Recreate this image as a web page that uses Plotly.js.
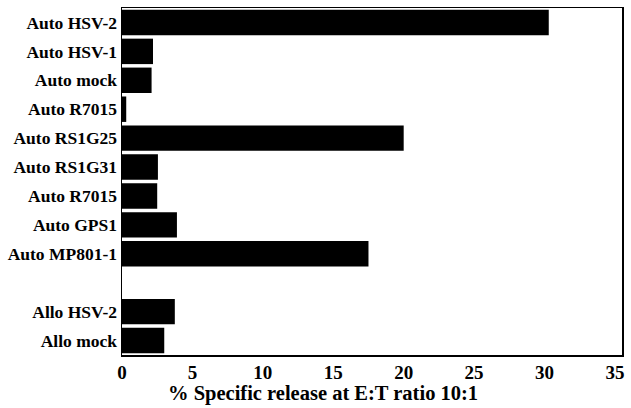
<!DOCTYPE html>
<html>
<head>
<meta charset="utf-8">
<script src="https://cdn.plot.ly/plotly-3.0.1.min.js"></script>
<style>html,body{margin:0;padding:0;background:#fff;}#chart{width:631px;height:408px;}</style>
</head>
<body>
<div id="chart"></div>
<script>
// Categories top to bottom (blank row separates Auto and Allo groups)
const categories = ["Auto HSV-2", "Auto HSV-1", "Auto mock", "Auto R7015", "Auto RS1G25",
  "Auto RS1G31", "Auto R7015", "Auto GPS1", "Auto MP801-1", "Allo HSV-2", "Allo mock"];
const rowPositions = [0, 1, 2, 3, 4, 5, 6, 7, 8, 10, 11];
const releaseValues = [30.3, 2.2, 2.1, 0.3, 20.0, 2.55, 2.5, 3.9, 17.5, 3.75, 3.0];
const xTicks = [0, 5, 10, 15, 20, 25, 30, 35];
const xTitle = '% Specific release at E:T ratio 10:1';

const fontFam = 'Liberation Serif, Times New Roman, serif';

Plotly.newPlot('chart', [{
  type: 'bar',
  orientation: 'h',
  x: releaseValues,
  y: rowPositions,
  width: 0.88,
  marker: {color: '#000000', line: {width: 0}},
  hoverinfo: 'skip'
}], {
  width: 631, height: 408,
  margin: {l: 122, r: 9, t: 8, b: 53},
  paper_bgcolor: '#ffffff', plot_bgcolor: '#ffffff',
  showlegend: false,
  font: {family: fontFam, color: '#000'},
  xaxis: {
    range: [0, 35.5],
    tickvals: xTicks,
    ticktext: xTicks.map(String),
    ticks: '', showgrid: false, zeroline: false,
    showline: true, mirror: true, linecolor: '#000', linewidth: 1.5,
    tickfont: {family: fontFam, size: 19, weight: 'bold'}
  },
  yaxis: {
    range: [11.5, -0.5],
    tickvals: rowPositions,
    ticktext: categories,
    ticks: '', showgrid: false, zeroline: false,
    showline: true, mirror: true, linecolor: '#000', linewidth: 1.5,
    tickfont: {family: fontFam, size: 17.5, weight: 'bold'}
  },
  annotations: [{
    text: xTitle, xref: 'paper', yref: 'paper',
    x: 0.402, y: 0, xanchor: 'center', yanchor: 'top', yshift: -25,
    showarrow: false,
    font: {family: fontFam, size: 20.5, weight: 'bold'}
  }]
}, {staticPlot: true, displayModeBar: false});
</script>
</body>
</html>
